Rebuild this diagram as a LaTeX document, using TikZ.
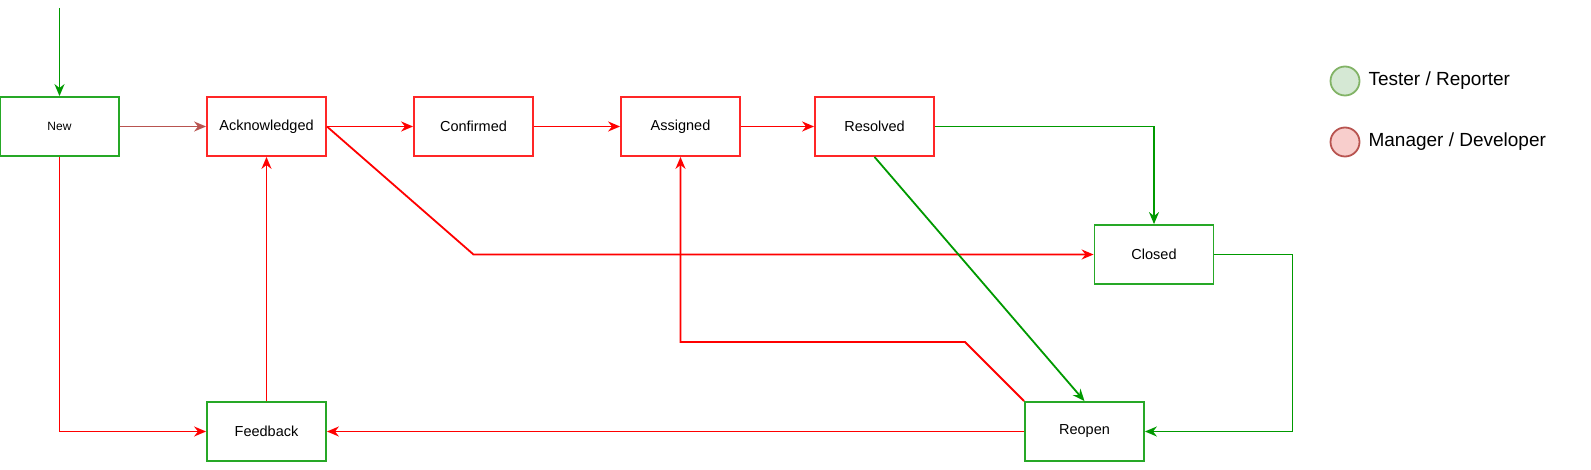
\documentclass[tikz,border=0pt]{standalone}
\usepackage{fontspec}
\setmainfont{Liberation Sans}
\usetikzlibrary{arrows.meta}

\definecolor{tgreen}{RGB}{0,153,0}
\definecolor{mred}{RGB}{255,0,0}
\definecolor{dred}{RGB}{184,84,80}
\definecolor{lgreen}{RGB}{213,232,212}
\definecolor{lgreenb}{RGB}{130,179,102}
\definecolor{lred}{RGB}{248,206,204}

\tikzset{
    state/.style={draw, line width=1.8pt, minimum width=119pt, minimum height=59pt,
        inner sep=0pt, font=\fontsize{14.5}{16}\selectfont},
    tst/.style={state, draw=tgreen!85!white},
    mgr/.style={state, draw=mred!85!white},
    tedge/.style={tgreen, line width=1.8pt, -{Stealth[length=12pt, width=10pt]}},
    medge/.style={mred, line width=1.8pt, -{Stealth[length=12pt, width=10pt]}},
    legdot/.style={circle, line width=1.8pt, minimum size=29pt, inner sep=0pt},
    legtext/.style={anchor=west, font=\fontsize{19}{22}\selectfont}
}

\begin{document}
\begin{tikzpicture}[x=1pt, y=-1pt]
    \useasboundingbox (0,0) rectangle (1591,470);

    % states
    \node[tst] (new) at (59.5,126.5) {\fontsize{12}{14}\selectfont New};
    \node[mgr] (ack) at (266.5,126.5) {Acknowledged};
    \node[mgr] (con) at (473.5,126.5) {Confirmed};
    \node[mgr] (asg) at (680.5,126.5) {Assigned};
    \node[mgr] (res) at (874.5,126.5) {Resolved};
    \node[tst] (clo) at (1154,254.5) {Closed};
    \node[tst] (fbk) at (266.5,431.5) {Feedback};
    \node[tst] (reo) at (1084.5,431.5) {Reopen};
    \coordinate (start) at (59.5,8);

    % legend
    \node[legdot, draw=lgreenb, fill=lgreen] (legt) at (1345,81) {};
    \node[legdot, draw=dred, fill=lred] (legm) at (1345,142) {};
    \node[legtext] (legtt) at (1365,81) {Tester / Reporter};
    \node[legtext] (legmt) at (1365,142) {Manager / Developer};

    % transitions
    \draw[tedge] (start) -- (new);
    \draw[medge, dred] (new) -- (ack);
    \draw[medge] (ack) -- (con);
    \draw[medge] (con) -- (asg);
    \draw[medge] (asg) -- (res);
    \draw[tedge] (res.east) -| (clo.north);
    \draw[medge] (ack.east) -- (con |- clo) -- (clo.west);
    \draw[tedge] (res.south) -- (reo.north);
    \draw[tedge] (clo.east) -- ++(78,0) |- (reo.east);
    \draw[medge] (reo.north west) -- ++(-59,-59) -| (asg.south);
    \draw[medge] (reo.west) -- (fbk.east);
    \draw[medge] (new.south) |- (fbk.west);
    \draw[medge] (fbk.north) -- (ack.south);
\end{tikzpicture}
\end{document}
